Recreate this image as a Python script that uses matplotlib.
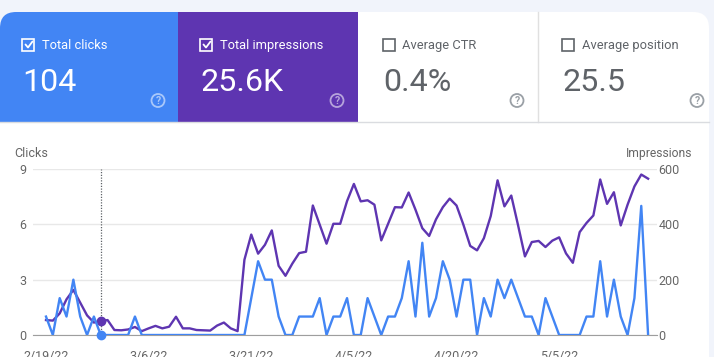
import matplotlib
matplotlib.use("Agg")
import matplotlib.pyplot as plt
import pandas as pd
from matplotlib.patches import Rectangle, FancyBboxPatch, Circle

# daily values, 2/19/22 .. 5/18/22
clicks = [1, 0, 2, 1, 3, 1, 0, 1, 0, 0, 0, 0, 0, 1, 0,
          0, 0, 0, 0, 0, 0, 0, 0, 0, 0, 0, 0, 0, 0, 0,
          2, 4, 3, 3, 1, 0, 0, 1, 1, 1, 2, 0, 1, 1, 2,
          0, 0, 2, 1, 0, 1, 1, 2, 4, 1, 5, 1, 2, 4, 3,
          1, 3, 3, 0, 2, 1, 3, 2, 3, 2, 1, 1, 0, 2, 1,
          0, 0, 0, 0, 1, 1, 4, 1, 3, 1, 0, 2, 7, 0]
impressions = [54, 52, 78, 129, 163, 117, 71, 45, 50, 54, 18, 17, 20, 29, 14,
               24, 33, 24, 30, 66, 24, 24, 18, 17, 16, 34, 45, 24, 14, 272,
               363, 294, 326, 378, 250, 214, 258, 296, 301, 468, 399, 330, 402, 402, 484,
               546, 483, 487, 471, 342, 402, 462, 461, 515, 453, 386, 358, 418, 462, 493,
               468, 399, 322, 306, 350, 430, 559, 465, 504, 396, 284, 336, 340, 318, 341,
               353, 295, 261, 372, 405, 432, 562, 474, 516, 396, 471, 537, 580, 565]
start_date = "2022-02-19"
tick_labels = ["2/19/22", "3/6/22", "3/21/22", "4/5/22", "4/20/22", "5/5/22"]
tick_step = 15
hover_idx = 8

card_titles = ["Total clicks", "Total impressions", "Average CTR", "Average position"]
card_values = ["104", "25.6K", "0.4%", "25.5"]

BLUE = "#4285f4"
PURPLE = "#5e35b1"
GREY = "#5f6368"
BG = "#f1f4fb"

plt.rcParams["font.family"] = ["Roboto", "DejaVu Sans"]

dates = pd.date_range(start_date, periods=len(clicks))

fig = plt.figure(figsize=(7.14, 3.57), dpi=100)
fig.patch.set_facecolor(BG)

# layer for the cards, in pixel units
bg = fig.add_axes([0, 0, 1, 1])
bg.set_xlim(0, 714)
bg.set_ylim(357, 0)
bg.axis("off")

card = FancyBboxPatch((0, 12), 709, 400, boxstyle="round,pad=0,rounding_size=16",
                      fc="white", ec="none")
bg.add_patch(card)
card_x = [0, 178, 358, 537.5]
card_w = [178, 180, 179.5, 171.5]
fills = [BLUE, PURPLE, None, None]
for x0, w, fc in zip(card_x, card_w, fills):
    if fc:
        r = Rectangle((x0, 12), w, 110, fc=fc, ec="none")
        bg.add_patch(r)
        r.set_clip_path(card)
bg.plot([537.5, 537.5], [12, 122], color="#e0e0e0", lw=1)
bg.plot([0, 709], [122, 122], color="#dadce0", lw=1)

for i, (title, value) in enumerate(zip(card_titles, card_values)):
    x0 = card_x[i]
    on = fills[i] is not None
    fg = "white" if on else GREY
    bx = x0 + 22 if i < 2 else x0 + 24.5
    bg.add_patch(Rectangle((bx, 38.5), 12, 12, fc="none", ec=fg, lw=1.2))
    if on:
        bg.plot([bx + 3.5, bx + 6, bx + 10.5], [44.5, 47.5, 41.5], color=fg, lw=1.3,
                solid_capstyle="round")
    bg.text(bx + 19.5, 49.3, title, color=fg, fontsize=9.3, va="baseline")
    bg.text(bx + 0.5, 90.7, value, color=fg, fontsize=23.2, va="baseline")
    hc = (1, 1, 1, 0.55) if on else "#9aa0a6"
    hx = x0 + [158, 159, 159, 159.5][i]
    bg.add_patch(Circle((hx, 100.5), 6.5, fc="none", ec=hc, lw=1.3))
    bg.text(hx, 100.8, "?", color=hc, fontsize=7.5, ha="center", va="center",
            fontweight="bold")

# chart
ax = fig.add_axes([33 / 714, 22 / 357, (657 - 33) / 714, 166 / 357])
ax.set_facecolor("white")
ax2 = ax.twinx()

ax.plot(dates, impressions, color=PURPLE, lw=1.7, zorder=3)
ax2.plot(dates, clicks, color=BLUE, lw=1.7, zorder=3)

ax.set_ylim(0, 600)
ax2.set_ylim(0, 9)
ax.set_yticks([0, 200, 400, 600])
ax2.set_yticks([0, 3, 6, 9])
ax.yaxis.tick_right()
ax2.yaxis.tick_left()

day = pd.Timedelta(days=1)
ax.set_xlim(dates[0] - 1.9 * day, dates[-1] + 1.3 * day)
ax.set_xticks(dates[::tick_step])
ax.set_xticklabels(tick_labels)

ax.grid(axis="y", color="#e8e8e8", lw=1)
ax.set_axisbelow(True)
for a in (ax, ax2):
    for s in a.spines.values():
        s.set_visible(False)
    a.tick_params(length=0, labelsize=9, labelcolor="#666666")
ax.spines["bottom"].set_visible(True)
ax.spines["bottom"].set_color("#9e9e9e")
ax.tick_params(axis="x", pad=11)
ax.tick_params(axis="y", pad=1)
ax2.tick_params(axis="y", pad=5)

# hover marker
ax.axvline(dates[hover_idx], color="#5f6368", lw=0.9, ls=(0, (1, 1.2)), zorder=2)
ax.plot(dates[hover_idx], impressions[hover_idx], "o", color=PURPLE, ms=6, zorder=4,
        clip_on=False)
ax2.plot(dates[hover_idx], clicks[hover_idx], "o", color=BLUE, ms=6, zorder=4,
         clip_on=False)

fig.text(14 / 714, 1 - 157.3 / 357, "Clicks", color="#666666", fontsize=9, va="baseline")
fig.text(692 / 714, 1 - 157.3 / 357, "Impressions", color="#666666", fontsize=8.7,
         va="baseline", ha="right")

fig.savefig("out.png", dpi=100, facecolor=fig.get_facecolor())
